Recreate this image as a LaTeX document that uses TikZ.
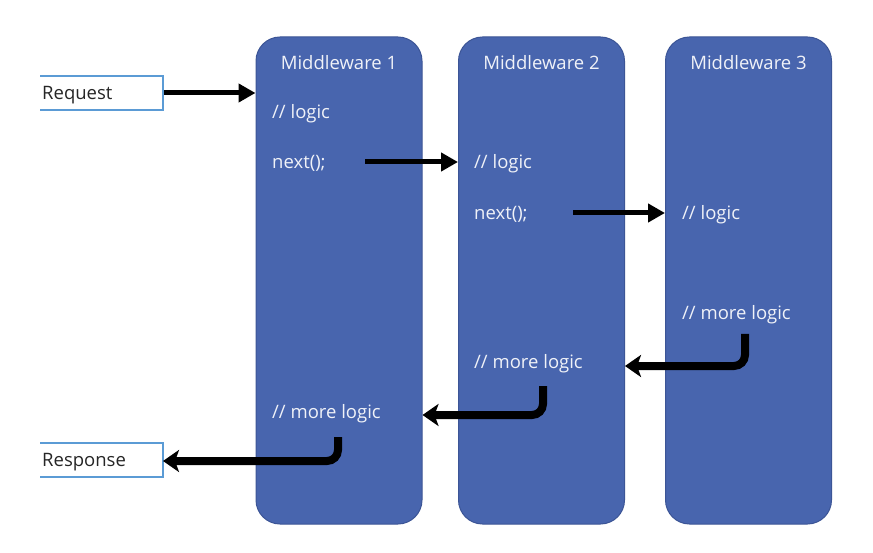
\documentclass[tikz,border=0pt]{standalone}
\usepackage{fontspec}
\setmainfont{Open Sans}
\usetikzlibrary{arrows.meta}
\definecolor{mwfill}{RGB}{72,101,174}
\definecolor{mwdraw}{RGB}{60,85,150}
\definecolor{mwtext}{RGB}{240,242,248}
\definecolor{iobox}{RGB}{91,155,213}
\tikzset{
  mwbox/.style={draw=mwdraw, line width=1pt, fill=mwfill, rounded corners=24pt, minimum width=166pt, minimum height=487pt, inner sep=0pt},
  mwtitle/.style={text=mwtext, font=\fontsize{18.5}{20}\selectfont, inner sep=0pt},
  code/.style={text=mwtext, font=\fontsize{18.5}{20}\selectfont, anchor=west, inner sep=0pt},
  iotext/.style={text=black!85, font=\fontsize{18.5}{20}\selectfont, anchor=west, inner sep=0pt},
  fwd/.style={line width=5pt, -{Triangle[length=17pt,width=18pt]}},
  back/.style={line width=8pt, rounded corners=11pt, -{Stealth[length=16pt,width=22pt,inset=4pt]}},
  ioline/.style={draw=iobox, line width=1.2pt}
}
\begin{document}
\begin{tikzpicture}[x=1pt,y=-1pt]
\useasboundingbox[fill=white] (0,0) rectangle (873,553);
% middleware boxes
\node[mwbox] (mw1) at (339,280.5) {};
\node[mwbox] (mw2) at (541.5,280.5) {};
\node[mwbox] (mw3) at (748.5,280.5) {};
\node[mwtitle] (t1) at (339,63) {Middleware 1};
\node[mwtitle] (t2) at (541.5,63) {Middleware 2};
\node[mwtitle] (t3) at (748.5,63) {Middleware 3};
% code lines
\node[code] (l1) at (272,113.5) {// logic};
\node[code] (n1) at (272,163.5) {next();};
\node[code] (m1) at (272,413.5) {// more logic};
\node[code] (l2) at (474,163.5) {// logic};
\node[code] (n2) at (474,214.5) {next();};
\node[code] (m2) at (474,363.5) {// more logic};
\node[code] (l3) at (682,214.5) {// logic};
\node[code] (m3) at (682,314.5) {// more logic};
% request / response boxes
\coordinate (rqa) at (40,76);
\coordinate (rqb) at (163,110);
\draw[ioline] (rqa) -- (rqa -| rqb) -- (rqb) -- (rqa |- rqb);
\node[iotext] (req) at (42,95) {Request};
\coordinate (rsa) at (40,443);
\coordinate (rsb) at (163,477);
\draw[ioline] (rsa) -- (rsa -| rsb) -- (rsb) -- (rsa |- rsb);
\node[iotext] (resp) at (42,462) {Response};
% forward arrows
\coordinate (rqout) at (164,93);
\draw[fwd] (rqout) -- (rqout -| mw1.west);
\coordinate (n1out) at (365,162);
\draw[fwd] (n1out) -- (n1out -| mw2.west);
\coordinate (n2out) at (573,213);
\draw[fwd] (n2out) -- (n2out -| mw3.west);
% return arrows
\coordinate (r3) at (745,334);
\coordinate (r3y) at (745,366);
\draw[back] (r3) -- (r3y) -- (r3y -| mw2.east);
\coordinate (r2) at (543,386);
\coordinate (r2y) at (543,415);
\draw[back] (r2) -- (r2y) -- (r2y -| mw1.east);
\coordinate (r1) at (338,437);
\coordinate (r1y) at (338,461);
\draw[back] (r1) -- (r1y) -- (r1y -| rsb);
\end{tikzpicture}
\end{document}
